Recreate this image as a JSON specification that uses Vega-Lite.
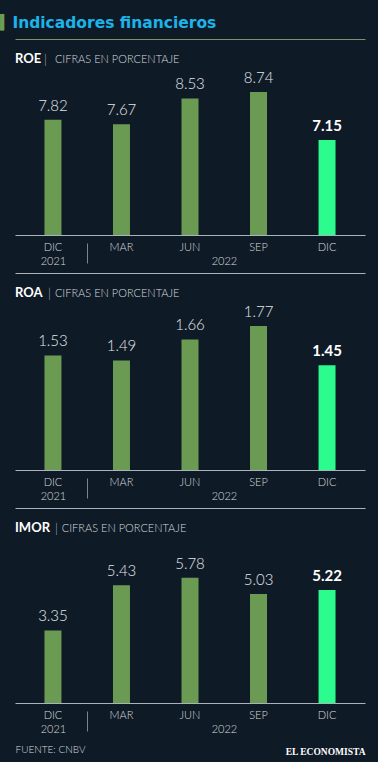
{
  "$schema": "https://vega.github.io/schema/vega-lite/v6.json",
  "background": "#0f1a27",
  "padding": {"left": 0, "top": 15, "right": 13, "bottom": 6},
  "title": {
    "text": "\u200b\u2002\u2009\u200aIndicadores financieros",
    "subtitle": "\u258c",
    "anchor": "start",
    "frame": "group",
    "dx": -15,
    "offset": 8,
    "font": "DejaVu Sans",
    "fontSize": 15.5,
    "fontWeight": "bold",
    "color": "#1cb3e9",
    "subtitleFont": "DejaVu Sans Mono",
    "subtitleFontSize": 14,
    "subtitleColor": "#6e9e55",
    "subtitlePadding": -15
  },
  "data": {
    "values": [
      {"ind": "ROE", "per": "DIC 2021", "v": 7.82, "last": false},
      {"ind": "ROE", "per": "MAR 2022", "v": 7.67, "last": false},
      {"ind": "ROE", "per": "JUN 2022", "v": 8.53, "last": false},
      {"ind": "ROE", "per": "SEP 2022", "v": 8.74, "last": false},
      {"ind": "ROE", "per": "DIC 2022", "v": 7.15, "last": true},
      {"ind": "ROA", "per": "DIC 2021", "v": 1.53, "last": false},
      {"ind": "ROA", "per": "MAR 2022", "v": 1.49, "last": false},
      {"ind": "ROA", "per": "JUN 2022", "v": 1.66, "last": false},
      {"ind": "ROA", "per": "SEP 2022", "v": 1.77, "last": false},
      {"ind": "ROA", "per": "DIC 2022", "v": 1.45, "last": true},
      {"ind": "IMOR", "per": "DIC 2021", "v": 3.35, "last": false},
      {"ind": "IMOR", "per": "MAR 2022", "v": 5.43, "last": false},
      {"ind": "IMOR", "per": "JUN 2022", "v": 5.78, "last": false},
      {"ind": "IMOR", "per": "SEP 2022", "v": 5.03, "last": false},
      {"ind": "IMOR", "per": "DIC 2022", "v": 5.22, "last": true}
    ]
  },
  "spacing": 38,
  "bounds": "flush",
  "vconcat": [
    {
      "width": 350,
      "height": 196,
      "transform": [{"filter": "datum.ind == 'ROE'"}],
      "title": {
        "text": "ROE",
        "subtitle": "\u200b\u2003\u2003\u2002\u2009\u2009\u2009\u2502\u2002CIFRAS EN PORCENTAJE",
        "anchor": "start", "frame": "group", "offset": -26.5,
        "font": "Lato", "fontSize": 13, "fontWeight": "bold", "color": "#ffffff",
        "subtitleFont": "Lato", "subtitleFontSize": 11, "subtitleFontWeight": 300,
        "subtitleColor": "#d6dade", "subtitlePadding": -11.4
      },
      "resolve": {"axis": {"x": "independent"}},
      "layer": [
        {
          "mark": {"type": "bar"},
          "encoding": {
            "x": {"field": "per", "type": "nominal", "sort": null,
              "scale": {"paddingInner": 0.752, "paddingOuter": 0.43},
              "axis": {"orient": "bottom", "title": null, "labelExpr": "split(datum.label, ' ')[0]", "labelAngle": 0,
                "ticks": false, "domain": true, "domainColor": "#aab3bc", "domainWidth": 1.2,
                "labelPadding": 6, "labelFontSize": 11, "labelFontWeight": 300, "labelColor": "#d6dade"}},
            "y": {"field": "v", "type": "quantitative", "scale": {"domain": [4.33, 10.44], "clamp": true}, "axis": null},
            "color": {"condition": {"test": "datum.last", "value": "#2cfb8d"}, "value": "#6b9b53"}
          }
        },
        {
          "mark": {"type": "text", "baseline": "bottom", "dy": -6, "fontSize": 15, "fontWeight": 300, "color": "#e3e6ea"},
          "encoding": {
            "x": {"field": "per", "type": "nominal", "sort": null,
              "axis": {"orient": "top", "title": null, "labels": false, "ticks": false, "domain": true, "domainColor": "#7d9168", "domainWidth": 1.2}},
            "y": {"field": "v", "type": "quantitative"},
            "text": {"condition": {"test": "datum.last", "value": ""}, "field": "v", "type": "quantitative", "format": ".2f"}
          }
        },
        {
          "mark": {"type": "text", "baseline": "bottom", "dy": -6, "fontSize": 15, "fontWeight": "bold", "color": "#ffffff"},
          "encoding": {
            "x": {"field": "per", "type": "nominal", "sort": null,
              "axis": {"orient": "bottom", "title": null, "values": ["DIC 2021", "JUN 2022"],
                "labelExpr": "split(datum.label, ' ')[1]", "labelAngle": 0, "offset": 8, "domain": false,
                "ticks": true, "tickSize": 20, "tickOffset": 34, "tickColor": "#7c8691",
                "tickOpacity": {"condition": {"test": "datum.value == 'DIC 2021'", "value": 1}, "value": 0},
                "labelOffset": {"condition": {"test": "datum.value == 'JUN 2022'", "value": 0}, "value": -34},
                "labelPadding": -8, "labelFontSize": 11, "labelFontWeight": 300, "labelColor": "#d6dade"}},
            "y": {"field": "v", "type": "quantitative"},
            "text": {"condition": {"test": "!datum.last", "value": ""}, "field": "v", "type": "quantitative", "format": ".2f"}
          }
        }
      ]
    },
    {
      "width": 350,
      "height": 197,
      "transform": [{"filter": "datum.ind == 'ROA'"}],
      "title": {
        "text": "ROA",
        "subtitle": "\u200b\u2003\u2003\u2003\u2002\u2502\u2009CIFRAS EN PORCENTAJE",
        "anchor": "start", "frame": "group", "offset": -26.5,
        "font": "Lato", "fontSize": 13, "fontWeight": "bold", "color": "#ffffff",
        "subtitleFont": "Lato", "subtitleFontSize": 11, "subtitleFontWeight": 300,
        "subtitleColor": "#d6dade", "subtitlePadding": -11.4
      },
      "resolve": {"axis": {"x": "independent"}},
      "layer": [
        {
          "mark": {"type": "bar"},
          "encoding": {
            "x": {"field": "per", "type": "nominal", "sort": null,
              "scale": {"paddingInner": 0.752, "paddingOuter": 0.43},
              "axis": {"orient": "bottom", "title": null, "labelExpr": "split(datum.label, ' ')[0]", "labelAngle": 0,
                "ticks": false, "domain": true, "domainColor": "#aab3bc", "domainWidth": 1.2,
                "labelPadding": 6, "labelFontSize": 11, "labelFontWeight": 300, "labelColor": "#d6dade"}},
            "y": {"field": "v", "type": "quantitative", "scale": {"domain": [0.769, 2.139], "clamp": true}, "axis": null},
            "color": {"condition": {"test": "datum.last", "value": "#2cfb8d"}, "value": "#6b9b53"}
          }
        },
        {
          "mark": {"type": "text", "baseline": "bottom", "dy": -6, "fontSize": 15, "fontWeight": 300, "color": "#e3e6ea"},
          "encoding": {
            "x": {"field": "per", "type": "nominal", "sort": null,
              "axis": {"orient": "top", "title": null, "labels": false, "ticks": false, "domain": true, "domainColor": "#aab3bc", "domainWidth": 1.2}},
            "y": {"field": "v", "type": "quantitative"},
            "text": {"condition": {"test": "datum.last", "value": ""}, "field": "v", "type": "quantitative", "format": ".2f"}
          }
        },
        {
          "mark": {"type": "text", "baseline": "bottom", "dy": -6, "fontSize": 15, "fontWeight": "bold", "color": "#ffffff"},
          "encoding": {
            "x": {"field": "per", "type": "nominal", "sort": null,
              "axis": {"orient": "bottom", "title": null, "values": ["DIC 2021", "JUN 2022"],
                "labelExpr": "split(datum.label, ' ')[1]", "labelAngle": 0, "offset": 8, "domain": false,
                "ticks": true, "tickSize": 20, "tickOffset": 34, "tickColor": "#7c8691",
                "tickOpacity": {"condition": {"test": "datum.value == 'DIC 2021'", "value": 1}, "value": 0},
                "labelOffset": {"condition": {"test": "datum.value == 'JUN 2022'", "value": 0}, "value": -34},
                "labelPadding": -8, "labelFontSize": 11, "labelFontWeight": 300, "labelColor": "#d6dade"}},
            "y": {"field": "v", "type": "quantitative"},
            "text": {"condition": {"test": "!datum.last", "value": ""}, "field": "v", "type": "quantitative", "format": ".2f"}
          }
        }
      ]
    },
    {
      "width": 350,
      "height": 195,
      "transform": [{"filter": "datum.ind == 'IMOR'"}],
      "title": {
        "text": "IMOR",
        "subtitle": "\u200b\u2003\u2003\u2003\u2002\u2009\u2002\u2502\u2009CIFRAS EN PORCENTAJE",
        "anchor": "start", "frame": "group", "offset": -26.5,
        "font": "Lato", "fontSize": 13, "fontWeight": "bold", "color": "#ffffff",
        "subtitleFont": "Lato", "subtitleFontSize": 11, "subtitleFontWeight": 300,
        "subtitleColor": "#d6dade", "subtitlePadding": -11.4
      },
      "resolve": {"axis": {"x": "independent"}},
      "layer": [
        {
          "mark": {"type": "bar"},
          "encoding": {
            "x": {"field": "per", "type": "nominal", "sort": null,
              "scale": {"paddingInner": 0.752, "paddingOuter": 0.43},
              "axis": {"orient": "bottom", "title": "FUENTE: CNBV", "titleAnchor": "start", "titlePadding": 24,
                "titleFont": "Lato", "titleFontSize": 10, "titleFontWeight": 300, "titleColor": "#d6dade",
                "labelExpr": "split(datum.label, ' ')[0]", "labelAngle": 0,
                "ticks": false, "domain": true, "domainColor": "#aab3bc", "domainWidth": 1.2,
                "labelPadding": 6, "labelFontSize": 11, "labelFontWeight": 300, "labelColor": "#d6dade"}},
            "y": {"field": "v", "type": "quantitative", "scale": {"domain": [0.064, 8.36], "clamp": true}, "axis": null},
            "color": {"condition": {"test": "datum.last", "value": "#2cfb8d"}, "value": "#6b9b53"}
          }
        },
        {
          "mark": {"type": "text", "baseline": "bottom", "dy": -6, "fontSize": 15, "fontWeight": 300, "color": "#e3e6ea"},
          "encoding": {
            "x": {"field": "per", "type": "nominal", "sort": null,
              "axis": {"orient": "top", "title": null, "labels": false, "ticks": false, "domain": true, "domainColor": "#aab3bc", "domainWidth": 1.2}},
            "y": {"field": "v", "type": "quantitative"},
            "text": {"condition": {"test": "datum.last", "value": ""}, "field": "v", "type": "quantitative", "format": ".2f"}
          }
        },
        {
          "mark": {"type": "text", "baseline": "bottom", "dy": -6, "fontSize": 15, "fontWeight": "bold", "color": "#ffffff"},
          "encoding": {
            "x": {"field": "per", "type": "nominal", "sort": null,
              "axis": {"orient": "bottom", "title": "EL ECONOMISTA", "titleAnchor": "end", "titlePadding": 12,
                "titleFont": "Liberation Serif", "titleFontSize": 9.5, "titleFontWeight": "bold", "titleColor": "#ffffff",
                "values": ["DIC 2021", "JUN 2022"],
                "labelExpr": "split(datum.label, ' ')[1]", "labelAngle": 0, "offset": 8, "domain": false,
                "ticks": true, "tickSize": 20, "tickOffset": 34, "tickColor": "#7c8691",
                "tickOpacity": {"condition": {"test": "datum.value == 'DIC 2021'", "value": 1}, "value": 0},
                "labelOffset": {"condition": {"test": "datum.value == 'JUN 2022'", "value": 0}, "value": -34},
                "labelPadding": -8, "labelFontSize": 11, "labelFontWeight": 300, "labelColor": "#d6dade"}},
            "y": {"field": "v", "type": "quantitative"},
            "text": {"condition": {"test": "!datum.last", "value": ""}, "field": "v", "type": "quantitative", "format": ".2f"}
          }
        }
      ]
    }
  ],
  "config": {
    "font": "Lato",
    "view": {"stroke": null},
    "axis": {"grid": false, "labelFont": "Lato", "titleFont": "Lato"}
  }
}
